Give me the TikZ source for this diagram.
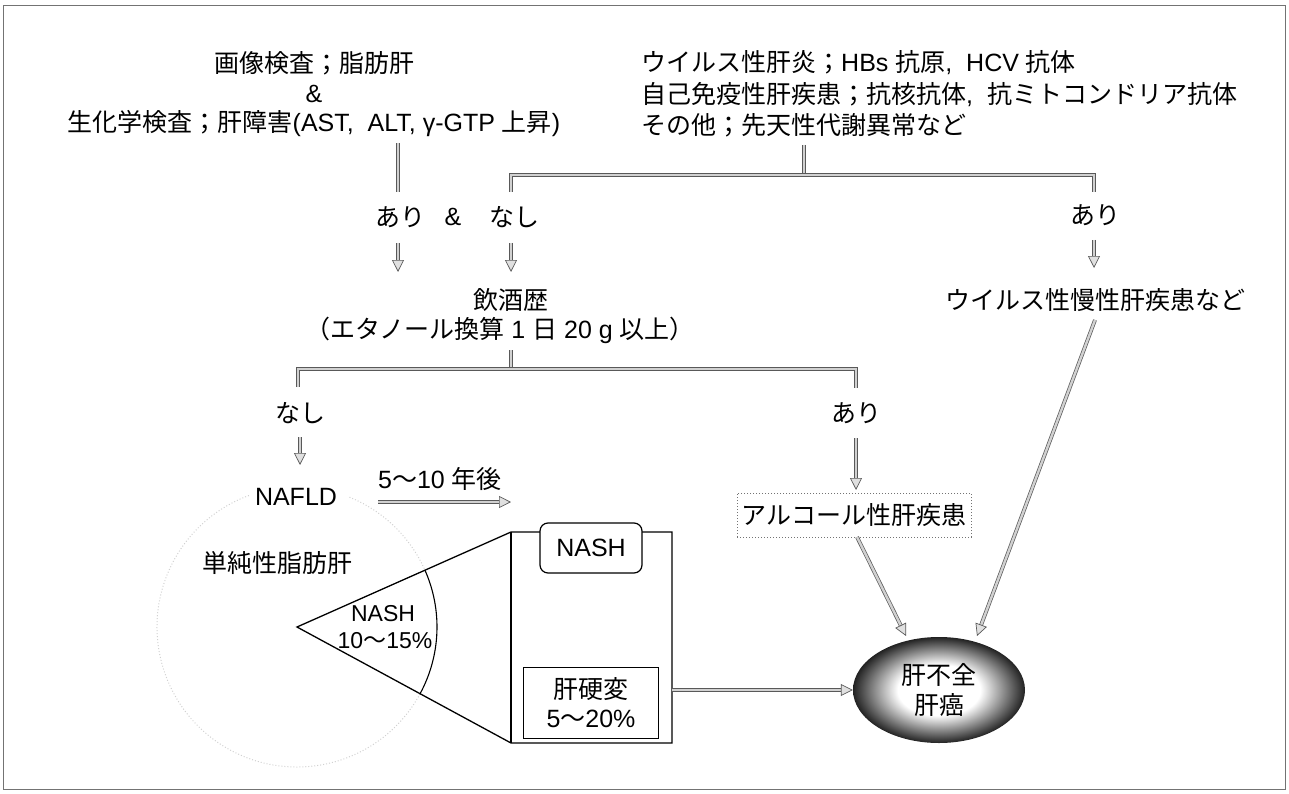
\documentclass[tikz,border=0pt]{standalone}
\usepackage{fontspec}
\setmainfont{Noto Sans CJK JP}
\newfontfamily\lat{Liberation Sans}
\usetikzlibrary{arrows.meta,shapes.geometric}
\pgfdeclareradialshading{liverball}{\pgfpoint{0bp}{0bp}}{color(0bp)=(white); color(12bp)=(white); color(27bp)=(black); color(50bp)=(black); color(90bp)=(black)}
\begin{document}
\begin{tikzpicture}[x=1pt,y=-1pt,
  every node/.style={inner sep=0pt, font=\fontsize{25}{30}\selectfont},
  small/.style={font=\fontsize{23}{27}\selectfont},
  frame/.style={draw=black!55, line width=1pt},
  gline/.style={draw=black!65, line width=0.7pt, double=black!18, double distance=2.4pt},
  garrow/.style={gline, -{Triangle[fill=black!12, length=12pt, width=12pt]}},
  shapeline/.style={draw=black, line width=1.3pt},
  faint/.style={draw=black!18, dotted, line width=1pt}
]
\useasboundingbox (0,0) rectangle (1289,794);
\draw[frame] (3,6) rectangle (1285,789);

% top texts
\node (img) at (314,63) {画像検査；脂肪肝};
\node (amp1) at (314,94) {\lat\&};
\node (bio) at (314,124) {生化学検査；肝障害{\lat (AST,\ \ ALT, γ-GTP }上昇{\lat )}};
\node[anchor=west] (vir1) at (641,63) {ウイルス性肝炎；{\lat HBs }抗原{\lat ,\ \ HCV }抗体};
\node[anchor=west] (vir2) at (641,95) {自己免疫性肝疾患；抗核抗体{\lat ,\ \ }抗ミトコンドリア抗体};
\node[anchor=west] (vir3) at (641,125) {その他；先天性代謝異常など};

% connectors level 1
\coordinate (l1s) at (398,143);
\coordinate (l1e) at (398,192);
\coordinate (b1top) at (804,145);
\coordinate (b1mid) at (804,175);
\coordinate (b1l) at (511,192);
\coordinate (b1r) at (1094,192);
\draw[gline] (l1s) -- (l1e);
\draw[gline] (b1top) -- (b1mid);
\draw[gline] (b1l) |- (b1mid) -| (b1r);

\node (ari1) at (400,217) {あり};
\node (amp2) at (453,217) {\lat\&};
\node (nashi1) at (514,217) {なし};
\node (ari2) at (1095,215) {あり};

\coordinate (a1s) at (398,243); \coordinate (a1e) at (398,272);
\coordinate (a2s) at (511,243); \coordinate (a2e) at (511,272);
\coordinate (a3s) at (1094,240); \coordinate (a3e) at (1094,268);
\draw[garrow] (a1s) -- (a1e);
\draw[garrow] (a2s) -- (a2e);
\draw[garrow] (a3s) -- (a3e);

\node (drink) at (511,300) {飲酒歴};
\node (drink2) at (500,330) {（エタノール換算{\lat\ 1\ }日{\lat\ 20\ g\ }以上）};
\node (viral) at (1095,300) {ウイルス性慢性肝疾患など};

% bracket level 2
\coordinate (b2top) at (511,350);
\coordinate (b2mid) at (511,369);
\coordinate (b2l) at (298,387);
\coordinate (b2r) at (856,388);
\draw[gline] (b2top) -- (b2mid);
\draw[gline] (b2l) |- (b2mid) -| (b2r);

\node (nashi2) at (300,413) {なし};
\node (ari3) at (856,413) {あり};
\coordinate (a4s) at (300,437); \coordinate (a4e) at (300,465);
\coordinate (a5s) at (856,438); \coordinate (a5e) at (856,490);
\draw[garrow] (a4s) -- (a4e);
\draw[garrow] (a5s) -- (a5e);

\node (nafld) at (296,497) {\lat NAFLD};
\node (years) at (440,479) {{\lat 5}〜{\lat 10 }年後};
\coordinate (y1) at (378,502); \coordinate (y2) at (511,502);
\draw[garrow] (y1) -- (y2);
\node (simple) at (277,563) {単純性脂肪肝};

% cone + pillar
\coordinate (apex) at (297,627);
\coordinate (tl) at (511,532);
\coordinate (tr) at (672,532);
\coordinate (br) at (672,743);
\coordinate (bl) at (511,743);
\draw[faint] (apex) ++(28.5:140) arc[start angle=28.5, end angle=250, radius=140];
\draw[faint] (apex) ++(292:140) arc[start angle=292, end angle=336, radius=140];
\draw[shapeline, line join=miter] (apex) -- (tl) -- (tr) -- (br) -- (bl) -- cycle;
\draw[shapeline] (tl) -- (bl);
\draw[line width=1.1pt] (apex) ++(-24:140) arc[start angle=-24, end angle=28.5, radius=140];
\node[small] (nash1) at (383,614) {\lat NASH};
\node[small] (nash1p) at (385,641) {{\lat 10}〜{\lat 15\%}};
\node[draw, line width=1.2pt, fill=white, rounded corners=8pt, minimum width=102, minimum height=50] (nashbox) at (591,548) {\lat NASH};
\node[draw, line width=1.2pt, minimum width=135, minimum height=71, align=center] (cirr) at (591,703) {肝硬変\\[-1pt]{\lat 5}〜{\lat 20\%}};

% alcohol
\node[draw=black!55, dotted, line width=1pt, minimum width=234, minimum height=44] (alc) at (854,515) {アルコール性肝疾患};

% liver
\node[ellipse, minimum width=172, minimum height=106, shading=liverball, align=center] (liver) at (939,690) {肝不全\\肝癌};

\coordinate (cirR) at (672,690);
\coordinate (alcS) at (857,537);
\coordinate (lvA) at (906,636);
\coordinate (virS) at (1095,320);
\coordinate (lvB) at (977,636);
\draw[garrow] (cirR) -- (liver.west);
\draw[garrow] (alcS) -- (lvA);
\draw[garrow] (virS) -- (lvB);
\end{tikzpicture}
\end{document}
